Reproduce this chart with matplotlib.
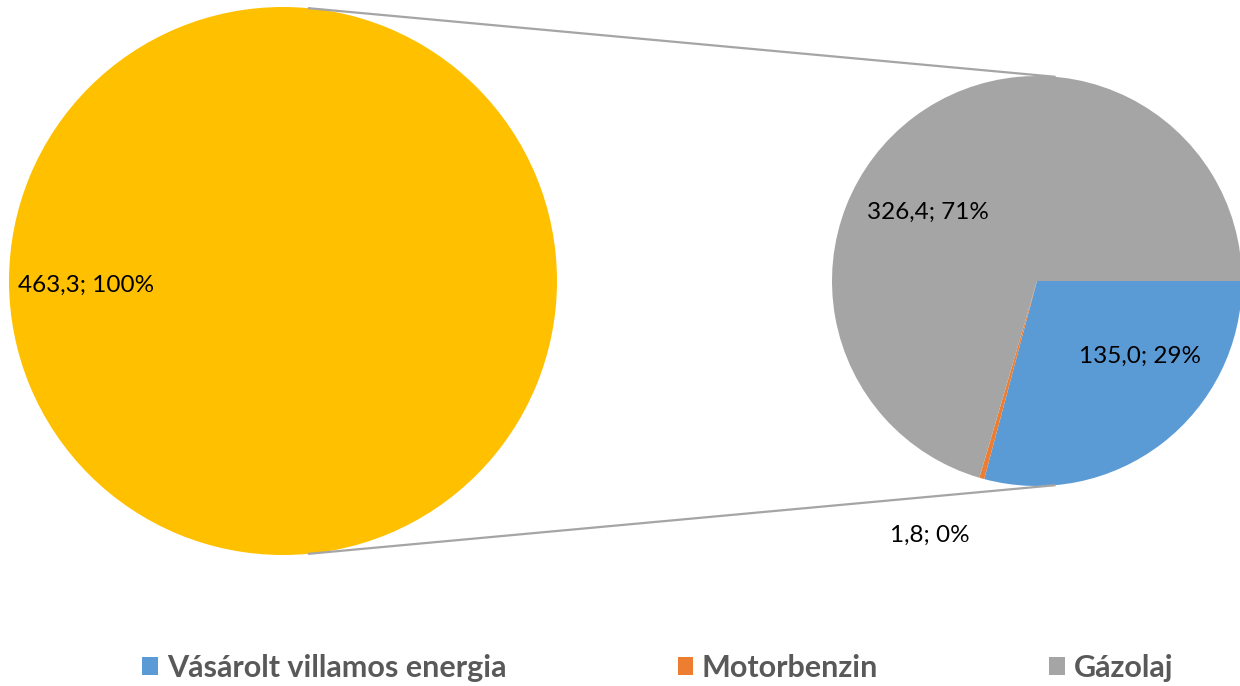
import numpy as np
import matplotlib
matplotlib.use("Agg")
from matplotlib import pyplot as plt
from matplotlib.patches import Patch

plt.rcParams['font.family'] = ['Lato', 'DejaVu Sans']

# data
categories = ['Vásárolt villamos energia', 'Motorbenzin', 'Gázolaj']
values = [135.0, 1.8, 326.4]
colors = ['#5B9BD5', '#ED7D31', '#A5A5A5']
total_label = '463,3; 100%'
value_labels = ['135,0; 29%', '1,8; 0%', '326,4; 71%']
total_color = '#FFC000'

W, H = 1240, 686
fig = plt.figure(figsize=(W / 100, H / 100), dpi=100)
ax = fig.add_axes([0, 0, 1, 1])

# big circle (whole)
c1 = (283, H - 281)
r1 = 274
ax.pie([sum(values)], colors=[total_color], center=c1, radius=r1,
       frame=True, wedgeprops=dict(linewidth=0))

# secondary pie
c2 = (1037, H - 281)
r2 = 205
ax.pie(values, colors=colors, center=c2, radius=r2, startangle=0,
       counterclock=False, frame=True, wedgeprops=dict(linewidth=0))

# connector lines
a = np.deg2rad(84.8)
for s in (1, -1):
    x0 = c1[0] + r1 * np.cos(a)
    y0 = c1[1] + s * r1 * np.sin(a)
    x1 = c2[0] + r2 * np.cos(a)
    y1 = c2[1] + s * r2 * np.sin(a)
    ax.plot([x0, x1], [y0, y1], color='#A5A5A5', lw=1.6, solid_capstyle='butt')

# labels
fs = 17.5
ax.text(c1[0] - 197, c1[1] - 4, total_label, fontsize=fs, ha='center', va='center')
ax.text(c2[0] + 103, c2[1] - 75, value_labels[0], fontsize=fs, ha='center', va='center')
ax.text(c2[0] - 107, c2[1] - 254, value_labels[1], fontsize=fs, ha='center', va='center')
ax.text(c2[0] - 109, c2[1] + 69, value_labels[2], fontsize=fs, ha='center', va='center')

ax.set_xlim(0, W)
ax.set_ylim(0, H)
ax.set_aspect('equal')
ax.axis('off')

handles = [Patch(facecolor=c, edgecolor='none') for c in colors]
leg = fig.legend(handles, categories, loc='center', bbox_to_anchor=(658 / W, 1 - 668 / H),
                 ncol=3, frameon=False, handlelength=0.5, handleheight=0.5,
                 handletextpad=0.3, columnspacing=5.6, borderaxespad=0, borderpad=0,
                 prop=dict(size=22, weight='bold'))
for t in leg.get_texts():
    t.set_color('#595959')

fig.savefig('out.png', dpi=100)
